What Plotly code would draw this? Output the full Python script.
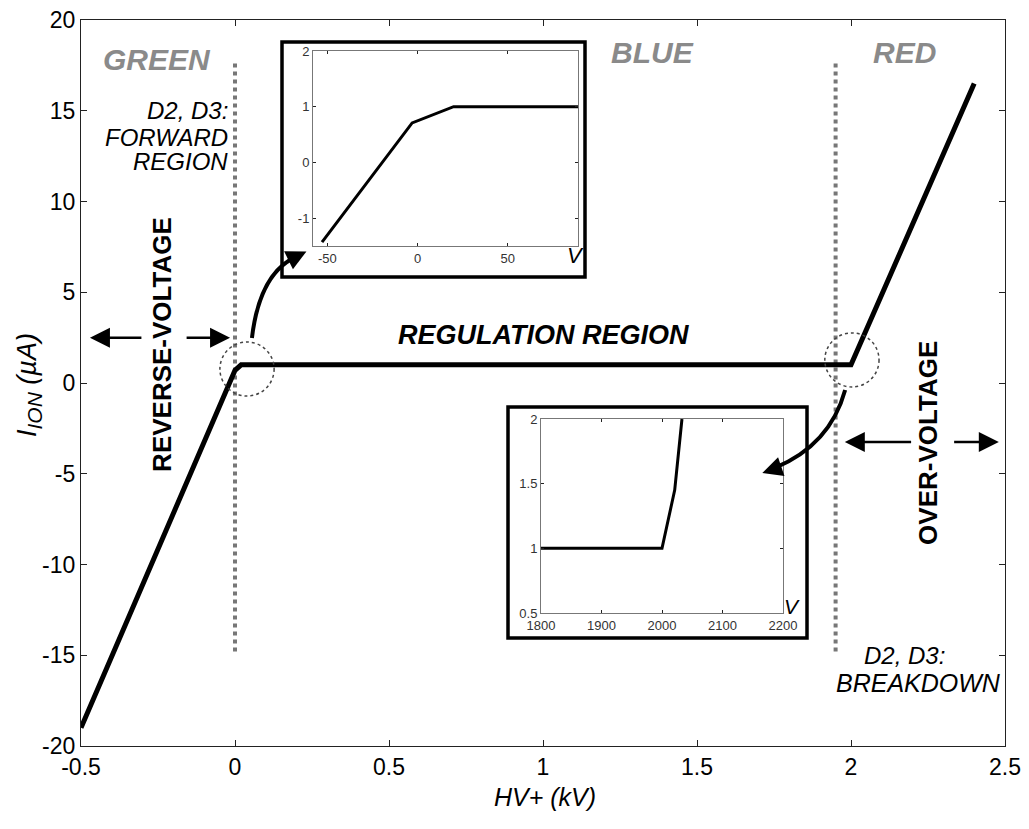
import plotly.graph_objects as go

# main I-V curve (kV, uA)
hv_kv = [-0.5, 0.0, 0.02, 2.0, 2.4]
i_ion_ua = [-19.0, 0.7, 1.0, 1.0, 16.5]

# zoom near 0 V (V, uA)
low_v = [-53, -3, 20, 89]
low_i = [-1.43, 0.71, 1.0, 1.0]

# zoom near 2 kV (V, uA)
high_v = [1800, 2000, 2021, 2033]
high_i = [1.0, 1.0, 1.45, 2.0]

x_ticks = [-0.5, 0, 0.5, 1, 1.5, 2, 2.5]
x_ticktext = ["-0.5", "0", "0.5", "1", "1.5", "2", "2.5"]
y_ticks = [-20, -15, -10, -5, 0, 5, 10, 15, 20]
y_ticktext = ["-20", "-15", "-10", "-5", "0", "5", "10", "15", "20"]

low_xticks = [-50, 0, 50]
low_xtext = ["-50", "0", "50"]
low_yticks = [-1, 0, 1, 2]
low_ytext = ["-1", "0", "1", "2"]

high_xticks = [1800, 1900, 2000, 2100, 2200]
high_xtext = ["1800", "1900", "2000", "2100", "2200"]
high_yticks = [0.5, 1, 1.5, 2]
high_ytext = ["0.5", "1", "1.5", "2"]

FONT = "Liberation Sans, Arial, sans-serif"

# plot area in page pixels; the page body adds an 8px margin all round
OFF = 8
W, H = 1029 - 2 * OFF, 829 - 2 * OFF
L, R, T, B = 81, 1005, 20, 746


def px_x(p):
    return (p - L) / (R - L)


def px_y(p):
    return (B - p) / (B - T)


fig = go.Figure()

fig.add_trace(go.Scatter(x=hv_kv, y=i_ion_ua, mode="lines",
                         line=dict(color="black", width=5), showlegend=False))
fig.add_trace(go.Scatter(x=low_v, y=low_i, mode="lines", xaxis="x2", yaxis="y2",
                         line=dict(color="black", width=3), showlegend=False))
fig.add_trace(go.Scatter(x=high_v, y=high_i, mode="lines", xaxis="x3", yaxis="y3",
                         line=dict(color="black", width=3), showlegend=False))

axis_common = dict(showgrid=False, zeroline=False, ticks="inside", automargin=False,
                   showline=True, mirror="ticks", linecolor="#222", linewidth=1.3,
                   tickcolor="#222", ticklabeloverflow="allow")

fig.update_layout(
    width=W, height=H,
    margin=dict(l=L - OFF, r=W - (R - OFF), t=T - OFF, b=H - (B - OFF)),
    paper_bgcolor="white", plot_bgcolor="rgba(0,0,0,0)",
    font=dict(family=FONT, color="black"),
    xaxis=dict(range=[-0.5, 2.5], tickvals=x_ticks, ticktext=x_ticktext,
               ticklen=6, tickfont=dict(size=23), **axis_common),
    yaxis=dict(range=[-20, 20], tickvals=y_ticks, ticktext=y_ticktext,
               ticklen=6, tickfont=dict(size=23), **axis_common),
    xaxis2=dict(domain=[px_x(313), px_x(578)], anchor="y2", range=[-58, 89],
                tickvals=low_xticks, ticktext=low_xtext, ticklen=3,
                tickfont=dict(size=13, color="#333"), **axis_common),
    yaxis2=dict(domain=[px_y(246), px_y(51)], anchor="x2", range=[-1.5, 2],
                tickvals=low_yticks, ticktext=low_ytext, ticklen=3,
                tickfont=dict(size=13, color="#333"), **axis_common),
    xaxis3=dict(domain=[px_x(541), px_x(783)], anchor="y3", range=[1800, 2200],
                tickvals=high_xticks, ticktext=high_xtext, ticklen=3,
                tickfont=dict(size=13, color="#333"), **axis_common),
    yaxis3=dict(domain=[px_y(613), px_y(419)], anchor="x3", range=[0.5, 2],
                tickvals=high_yticks, ticktext=high_ytext, ticklen=3,
                tickfont=dict(size=13, color="#333"), **axis_common),
)
# inset axes frames are lighter than the main box
for name in ["xaxis2", "yaxis2", "xaxis3", "yaxis3"]:
    fig.layout[name].linecolor = "#777"
    fig.layout[name].linewidth = 1

# inset frames
for x0, x1, y0, y1 in [(282, 585, 42, 277), (508, 807, 407, 638)]:
    fig.add_shape(type="rect", xref="paper", yref="paper",
                  x0=px_x(x0), x1=px_x(x1), y0=px_y(y1), y1=px_y(y0),
                  line=dict(color="black", width=3.5), layer="above")

# region boundaries
for xv in [0.0, 1.95]:
    fig.add_shape(type="line", x0=xv, x1=xv, y0=-14.8, y1=17.7,
                  line=dict(color="#777", width=4, dash="dot"), layer="below")

# circles around the knees
for cx, cy in [(0.039, 0.77), (2.003, 1.27)]:
    fig.add_shape(type="circle", x0=cx - 0.088, x1=cx + 0.088,
                  y0=cy - 1.49, y1=cy + 1.49,
                  line=dict(color="#444", width=1.5, dash="dot"))

# curved arrows to insets
fig.add_shape(type="path", path="M 0.055,2.48 Q 0.081,6.23 0.211,7.05",
              line=dict(color="black", width=4))
fig.add_shape(type="path", path="M 1.981,-0.39 Q 1.932,-3.42 1.753,-4.68",
              line=dict(color="black", width=4))

arrow = dict(xref="x", yref="y", axref="x", ayref="y", text="", showarrow=True,
             arrowhead=2, arrowsize=1.6, arrowwidth=2.5, arrowcolor="black")
fig.add_annotation(x=0.232, y=7.25, ax=0.19, ay=6.9, **arrow)
fig.add_annotation(x=1.712, y=-4.96, ax=1.775, ay=-4.6, **arrow)
fig.add_annotation(x=-0.471, y=2.5, ax=-0.299, ay=2.5, **arrow)
fig.add_annotation(x=-0.016, y=2.5, ax=-0.162, ay=2.5, **arrow)
fig.add_annotation(x=1.98, y=-3.25, ax=2.20, ay=-3.25, **arrow)
fig.add_annotation(x=2.48, y=-3.25, ax=2.33, ay=-3.25, **arrow)

bold = dict(family=FONT, size=26, color="black", weight="bold")
fig.add_annotation(x=-0.237, y=2.1, text="REVERSE-VOLTAGE", textangle=-90,
                   showarrow=False, font=bold)
fig.add_annotation(x=2.25, y=-3.3, text="OVER-VOLTAGE", textangle=-90,
                   showarrow=False, font=bold)
fig.add_annotation(x=1.0, y=2.64, text="REGULATION REGION", showarrow=False,
                   font=dict(family=FONT, size=27, weight="bold", style="italic"))

for txt, xv, yv in [("GREEN", -0.253, 17.8), ("BLUE", 1.354, 18.2), ("RED", 2.175, 18.2)]:
    fig.add_annotation(x=xv, y=yv, text=txt, showarrow=False,
                       font=dict(family=FONT, size=30, color="#8a8a8a",
                                 weight="bold", style="italic"))

ital = dict(family=FONT, size=24, style="italic")
for txt, yv in [("D2, D3:", 15.04), ("FORWARD", 13.55), ("REGION", 12.2)]:
    fig.add_annotation(x=-0.016, y=yv, text=txt, xanchor="right",
                       showarrow=False, font=ital)
fig.add_annotation(x=2.175, y=-14.99, text="D2, D3:", showarrow=False, font=ital)
fig.add_annotation(x=2.218, y=-16.53, text="BREAKDOWN", showarrow=False,
                   font=dict(family=FONT, size=25, style="italic"))

# texts placed in paper space, centred on the given pixel
page = dict(xref="paper", yref="paper", xanchor="center", yanchor="middle",
            showarrow=False)
fig.add_annotation(x=px_x(575), y=px_y(256), text="V",
                   font=dict(family=FONT, size=22, style="italic"), **page)
fig.add_annotation(x=px_x(792), y=px_y(606), text="V",
                   font=dict(family=FONT, size=21, style="italic"), **page)
fig.add_annotation(x=px_x(545), y=px_y(797), text="HV+ (kV)",
                   font=dict(family=FONT, size=25, style="italic"), **page)
fig.add_annotation(x=px_x(29), y=px_y(385),
                   text="I<sub><span style='font-size:21px'>ION</span></sub> (µA)",
                   textangle=-90, font=dict(family=FONT, size=27, style="italic"),
                   **page)

fig.write_html("out.html")
